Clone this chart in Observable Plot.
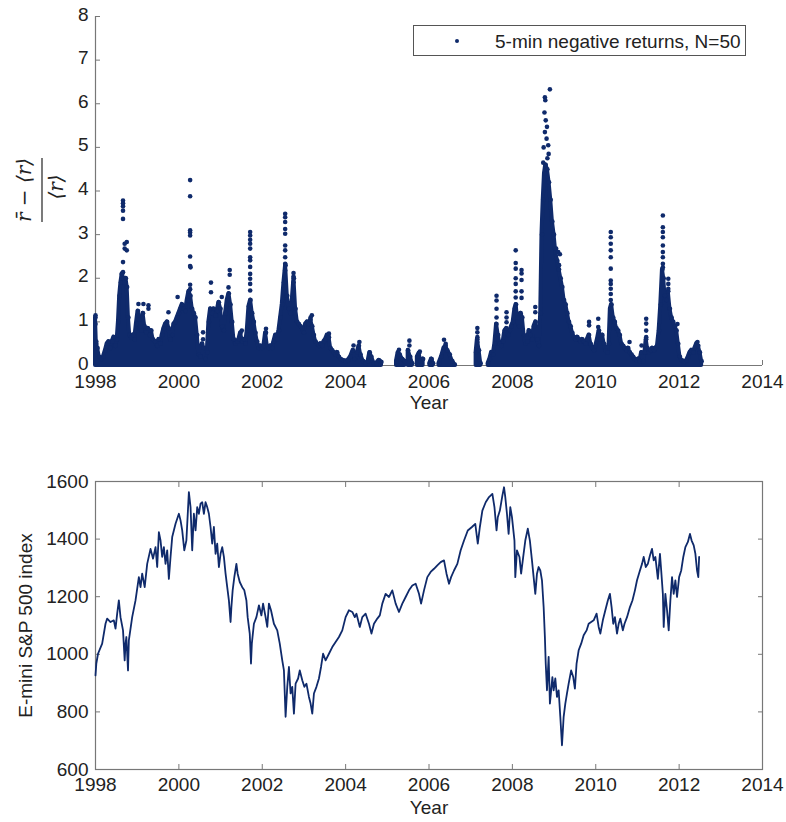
<!DOCTYPE html>
<html>
<head>
<meta charset="utf-8">
<script src="https://cdn.jsdelivr.net/npm/d3@7"></script>
<script src="https://cdn.jsdelivr.net/npm/@observablehq/plot@0.6"></script>
<style>
  html, body { margin: 0; padding: 0; background: #fff; }
  #chart { width: 786px; }
  #chart svg { display: block; }
</style>
</head>
<body>
<div id="chart"></div>
<script>
// Tick values
const yearTicks = [1998, 2000, 2002, 2004, 2006, 2008, 2010, 2012, 2014];
const ratioTicks = [0, 1, 2, 3, 4, 5, 6, 7, 8];
const priceTicks = [600, 800, 1000, 1200, 1400, 1600];

// Upper edge of the dense cloud of 5-min negative-return ratios [year, value]; NaN marks a gap with no data
const cloudTop = [
  [1998.00,1.10],[1998.02,0.50],[1998.05,0.40],[1998.09,0.20],[1998.14,0.15],[1998.19,0.20],[1998.24,0.35],[1998.28,0.50],
  [1998.32,0.55],[1998.36,0.40],[1998.40,0.55],[1998.44,0.65],[1998.48,0.45],[1998.52,0.60],[1998.55,1.00],[1998.58,1.60],
  [1998.61,1.90],[1998.64,2.10],[1998.67,2.00],[1998.70,1.90],[1998.73,2.00],[1998.76,1.80],[1998.79,1.10],[1998.82,0.70],
  [1998.86,0.65],[1998.90,0.70],[1998.94,0.60],[1998.98,0.95],[1999.02,1.25],[1999.06,1.05],[1999.10,0.80],[1999.14,1.20],
  [1999.18,0.90],[1999.22,0.75],[1999.26,0.85],[1999.30,0.70],[1999.34,0.80],[1999.38,0.60],[1999.43,0.55],[1999.48,0.45],
  [1999.52,0.60],[1999.56,0.50],[1999.60,0.70],[1999.64,0.85],[1999.68,0.95],[1999.72,1.00],[1999.76,0.85],[1999.80,0.60],
  [1999.84,0.70],[1999.88,0.95],[1999.92,1.00],[1999.96,1.10],[2000.00,1.20],[2000.04,1.30],[2000.08,1.40],[2000.12,1.30],
  [2000.16,1.25],[2000.20,1.50],[2000.24,1.70],[2000.28,1.60],[2000.32,1.30],[2000.36,1.20],[2000.40,1.10],[2000.44,0.70],
  [2000.48,0.25],[2000.52,0.20],[2000.56,0.50],[2000.60,0.40],[2000.64,0.15],[2000.68,0.30],[2000.72,1.00],[2000.76,1.30],
  [2000.80,1.20],[2000.84,1.30],[2000.88,1.15],[2000.92,1.25],[2000.96,1.45],[2001.00,1.30],[2001.04,0.90],[2001.08,0.80],
  [2001.12,1.20],[2001.16,1.50],[2001.20,1.65],[2001.24,1.40],[2001.28,1.00],[2001.32,0.60],[2001.36,0.50],[2001.40,0.55],
  [2001.44,0.60],[2001.48,0.75],[2001.52,0.55],[2001.56,0.60],[2001.60,0.50],[2001.64,0.80],[2001.68,1.35],[2001.72,1.50],
  [2001.76,1.20],[2001.80,1.00],[2001.84,0.75],[2001.88,0.55],[2001.92,0.40],[2001.96,0.45],[2002.00,0.40],[2002.04,0.45],
  [2002.08,0.75],[2002.12,0.45],[2002.16,0.40],[2002.20,0.45],[2002.24,0.40],[2002.28,0.55],[2002.32,0.70],[2002.36,0.60],
  [2002.40,0.80],[2002.44,1.10],[2002.48,1.40],[2002.52,1.90],[2002.56,2.30],[2002.60,1.60],[2002.64,1.30],[2002.68,1.20],
  [2002.72,1.50],[2002.76,2.00],[2002.80,1.30],[2002.84,1.00],[2002.88,0.95],[2002.92,0.90],[2002.96,0.85],[2003.00,0.75],
  [2003.04,0.95],[2003.08,1.00],[2003.12,0.95],[2003.16,1.05],[2003.20,0.90],[2003.24,0.70],[2003.28,0.55],[2003.32,0.50],
  [2003.36,0.45],[2003.40,0.50],[2003.44,0.45],[2003.48,0.55],[2003.52,0.60],[2003.56,0.70],[2003.60,0.65],[2003.64,0.40],
  [2003.68,0.35],[2003.72,0.30],[2003.76,0.25],[2003.80,0.30],[2003.84,0.20],[2003.88,0.15],[2003.94,0.12],[2004.00,0.10],
  [2004.06,0.12],[2004.12,0.20],[2004.18,0.35],[2004.22,0.15],[2004.28,0.30],[2004.32,0.45],[2004.36,0.25],[2004.42,0.10],
  [2004.48,0.05],[2004.54,0.10],[2004.58,0.30],[2004.62,0.20],[2004.68,0.05],[2004.74,0.05],[2004.80,0.12],[2004.86,0.08],
  [2004.95,NaN],
  [2005.22,0.10],[2005.26,0.30],[2005.30,0.25],[2005.36,0.15],[2005.42,0.10],[2005.46,NaN],
  [2005.50,0.35],[2005.55,0.20],[2005.60,0.05],[2005.66,NaN],
  [2005.72,0.20],[2005.76,0.28],[2005.80,0.10],[2005.86,0.15],[2005.94,NaN],
  [2006.02,0.05],[2006.06,0.15],[2006.10,0.05],[2006.18,NaN],
  [2006.24,0.05],[2006.30,0.20],[2006.36,0.40],[2006.40,0.45],[2006.44,0.35],[2006.50,0.25],[2006.56,0.10],[2006.62,0.02],[2006.90,NaN],
  [2007.13,0.30],[2007.16,0.60],[2007.20,0.35],[2007.24,0.05],[2007.33,NaN],
  [2007.42,0.05],[2007.46,0.15],[2007.50,0.30],[2007.54,0.25],[2007.58,0.50],[2007.62,0.95],[2007.66,0.70],[2007.70,0.50],
  [2007.74,0.45],[2007.78,0.55],[2007.82,0.80],[2007.86,0.85],[2007.90,0.70],[2007.94,0.80],[2007.98,0.90],[2008.02,1.00],
  [2008.06,1.30],[2008.09,1.40],[2008.12,1.10],[2008.16,0.90],[2008.20,1.20],[2008.24,1.10],[2008.28,0.70],[2008.32,0.50],
  [2008.36,0.55],[2008.40,0.80],[2008.44,0.70],[2008.48,0.60],[2008.52,0.90],[2008.56,1.00],[2008.60,0.60],[2008.64,0.45],
  [2008.68,1.20],[2008.71,3.00],[2008.74,3.80],[2008.77,4.40],[2008.80,4.60],[2008.84,4.50],[2008.88,4.20],[2008.92,3.80],
  [2008.96,3.30],[2009.00,3.00],[2009.04,2.60],[2009.08,2.40],[2009.12,2.20],[2009.16,2.00],[2009.20,1.80],[2009.24,1.50],
  [2009.28,1.40],[2009.32,1.20],[2009.36,1.00],[2009.40,0.90],[2009.44,0.75],[2009.48,0.65],[2009.52,0.60],[2009.56,0.65],
  [2009.60,0.60],[2009.64,0.55],[2009.68,0.60],[2009.72,0.55],[2009.76,0.50],[2009.80,0.60],[2009.84,0.70],[2009.88,0.50],
  [2009.92,0.40],[2009.96,0.35],[2010.00,0.45],[2010.04,0.60],[2010.08,0.80],[2010.12,0.60],[2010.16,0.70],[2010.20,0.50],
  [2010.24,0.35],[2010.28,0.30],[2010.32,0.50],[2010.35,1.30],[2010.38,1.40],[2010.42,1.10],[2010.46,1.00],[2010.50,0.85],
  [2010.54,0.80],[2010.58,0.70],[2010.62,0.50],[2010.66,0.45],[2010.70,0.40],[2010.74,0.35],[2010.78,0.40],[2010.82,0.30],
  [2010.86,0.25],[2010.90,0.20],[2010.94,0.15],[2010.98,0.12],[2011.02,0.15],[2011.06,0.10],[2011.10,0.30],[2011.14,0.10],
  [2011.18,0.30],[2011.21,0.60],[2011.24,0.40],[2011.28,0.30],[2011.32,0.35],[2011.36,0.40],[2011.40,0.35],[2011.44,0.40],
  [2011.48,0.45],[2011.52,0.80],[2011.56,1.40],[2011.60,2.20],[2011.63,2.00],[2011.66,1.60],[2011.70,1.50],[2011.74,1.70],
  [2011.78,1.30],[2011.82,1.10],[2011.86,1.00],[2011.90,0.90],[2011.94,0.80],[2011.98,0.50],[2012.02,0.20],[2012.06,0.12],
  [2012.10,0.10],[2012.14,0.08],[2012.18,0.12],[2012.22,0.20],[2012.26,0.30],[2012.30,0.35],[2012.34,0.30],[2012.38,0.40],
  [2012.42,0.50],[2012.46,0.45],[2012.50,0.30],[2012.54,0.10]
];

// Isolated points standing above the dense cloud [year, value]
const sparsePoints = [
  [1998.00,1.15],[1998.00,0.95],[1998.02,0.55],
  [1998.66,3.78],[1998.66,3.72],[1998.66,3.65],[1998.66,3.55],[1998.66,3.36],[1998.70,2.79],[1998.70,2.68],
  [1998.75,2.83],[1998.75,2.64],[1998.66,2.37],[1998.66,2.14],[1998.63,2.10],
  [1999.03,1.41],[1999.15,1.41],[1999.27,1.38],[1999.27,1.30],[1999.75,1.22],
  [1999.97,1.57],[2000.27,4.25],[2000.27,3.88],[2000.27,3.10],[2000.27,3.05],[2000.27,2.98],[2000.27,2.50],
  [2000.27,2.28],[2000.28,2.25],[2000.27,1.85],[2000.27,1.75],[2000.22,1.49],
  [2000.58,0.76],[2000.58,0.60],
  [2000.77,1.90],[2000.77,1.68],[2001.03,1.57],[2001.22,2.19],[2001.22,2.08],[2001.19,1.79],[2001.51,0.80],
  [2001.71,3.06],[2001.71,2.98],[2001.71,2.88],[2001.71,2.79],[2001.71,2.68],[2001.71,2.48],[2001.71,2.41],
  [2001.71,2.26],[2001.71,2.10],[2001.71,1.99],[2001.71,1.87],[2001.71,1.72],
  [2002.09,0.84],[2002.09,0.75],
  [2002.55,3.48],[2002.55,3.40],[2002.55,3.29],[2002.55,3.13],[2002.55,3.02],[2002.55,2.75],[2002.55,2.64],
  [2002.55,2.48],[2002.55,2.33],[2002.55,2.18],
  [2002.75,2.12],[2002.75,2.04],[2002.75,1.91],
  [2003.19,1.15],[2003.16,1.10],[2003.60,0.73],[2004.19,0.46],[2004.33,0.54],
  [2005.28,0.36],[2005.53,0.57],[2005.53,0.46],[2005.78,0.32],[2006.06,0.15],[2006.36,0.59],[2006.40,0.50],
  [2007.16,0.86],[2007.16,0.76],[2007.16,0.65],[2007.16,0.54],
  [2007.62,1.60],[2007.62,1.49],[2007.62,1.30],[2007.62,1.10],
  [2007.86,1.22],[2007.86,1.10],[2007.86,0.99],
  [2008.08,2.64],[2008.08,2.35],[2008.08,2.22],[2008.08,2.00],[2008.08,1.87],[2008.08,1.70],[2008.08,1.56],
  [2008.22,2.19],[2008.22,2.11],[2008.22,1.96],[2008.22,1.70],[2008.22,1.55],
  [2008.55,1.34],[2008.55,1.22],
  [2008.90,6.33],[2008.78,6.15],[2008.79,6.08],[2008.77,5.80],[2008.80,5.62],[2008.83,5.47],[2008.78,5.35],
  [2008.82,5.20],[2008.86,5.05],[2008.75,5.00],[2008.87,4.85],[2008.84,4.75],[2008.74,4.65],
  [2009.05,2.68],[2009.10,2.60],[2009.14,2.55],[2009.12,2.30],[2009.05,2.45],
  [2009.84,1.00],[2009.84,0.92],[2010.06,1.07],[2010.06,0.88],
  [2010.36,3.06],[2010.36,2.94],[2010.36,2.79],[2010.36,2.64],[2010.36,2.48],[2010.36,2.22],[2010.36,1.95],
  [2010.36,1.87],[2010.36,1.76],[2010.36,1.64],[2010.36,1.50],
  [2010.81,0.54],[2011.10,0.46],[2011.21,1.07],[2011.21,0.96],[2011.21,0.80],[2011.21,0.65],
  [2011.61,3.44],[2011.61,3.17],[2011.61,3.06],[2011.61,2.94],[2011.61,2.75],[2011.61,2.60],[2011.61,2.48],
  [2011.61,2.33],[2011.61,2.25],
  [2011.74,1.99],[2011.74,1.87],[2011.74,1.76],
  [2011.96,0.95],[2012.44,0.54]
];

// E-mini S&P 500 index level [year, index]
const sp500 = [
  [1998.00,927],[1998.02,968],[1998.06,1002],[1998.16,1037],[1998.24,1106],[1998.28,1124],[1998.36,1112],[1998.44,1118],
  [1998.48,1089],[1998.52,1141],[1998.56,1187],[1998.60,1129],[1998.66,1083],[1998.70,979],[1998.72,1037],[1998.74,1060],
  [1998.78,944],[1998.80,1048],[1998.88,1129],[1998.96,1187],[1999.04,1268],[1999.08,1233],[1999.12,1280],[1999.18,1233],
  [1999.24,1314],[1999.32,1366],[1999.38,1332],[1999.44,1372],[1999.48,1303],[1999.52,1424],[1999.56,1395],[1999.60,1338],
  [1999.64,1372],[1999.68,1314],[1999.72,1361],[1999.76,1262],[1999.80,1338],[1999.84,1407],[1999.92,1453],[2000.00,1488],
  [2000.04,1465],[2000.08,1430],[2000.13,1361],[2000.18,1395],[2000.24,1563],[2000.28,1511],[2000.32,1361],[2000.36,1488],
  [2000.40,1430],[2000.44,1511],[2000.48,1488],[2000.52,1523],[2000.56,1528],[2000.60,1488],[2000.64,1528],[2000.68,1511],
  [2000.72,1488],[2000.76,1442],[2000.80,1384],[2000.84,1442],[2000.88,1349],[2000.92,1384],[2000.96,1303],[2001.00,1349],
  [2001.04,1372],[2001.08,1338],[2001.12,1280],[2001.16,1233],[2001.20,1187],[2001.24,1112],[2001.26,1164],[2001.29,1222],
  [2001.33,1268],[2001.38,1314],[2001.41,1280],[2001.46,1251],[2001.52,1233],[2001.57,1222],[2001.62,1187],[2001.65,1129],
  [2001.70,1072],[2001.73,968],[2001.75,1037],[2001.80,1106],[2001.86,1129],[2001.92,1170],[2001.98,1135],[2002.02,1176],
  [2002.08,1129],[2002.12,1095],[2002.16,1176],[2002.21,1153],[2002.28,1106],[2002.36,1083],[2002.42,1037],[2002.48,979],
  [2002.52,944],[2002.56,783],[2002.60,887],[2002.64,956],[2002.68,864],[2002.72,887],[2002.76,794],[2002.80,898],
  [2002.86,916],[2002.90,944],[2002.96,910],[2003.01,887],[2003.06,898],[2003.12,852],[2003.16,829],[2003.20,794],
  [2003.24,864],[2003.30,887],[2003.36,916],[2003.41,956],[2003.46,1002],[2003.52,979],[2003.60,1002],[2003.68,1025],
  [2003.76,1043],[2003.84,1060],[2003.92,1083],[2004.00,1129],[2004.08,1153],[2004.16,1147],[2004.22,1129],[2004.26,1141],
  [2004.34,1095],[2004.40,1129],[2004.48,1141],[2004.56,1106],[2004.62,1072],[2004.68,1106],[2004.76,1124],[2004.82,1135],
  [2004.88,1176],[2004.96,1210],[2005.04,1199],[2005.12,1222],[2005.20,1176],[2005.28,1147],[2005.36,1176],[2005.44,1199],
  [2005.52,1222],[2005.60,1239],[2005.68,1245],[2005.76,1210],[2005.81,1176],[2005.88,1222],[2005.96,1268],[2006.04,1286],
  [2006.12,1297],[2006.20,1309],[2006.28,1320],[2006.36,1326],[2006.42,1280],[2006.48,1245],[2006.53,1268],[2006.60,1291],
  [2006.68,1314],[2006.76,1361],[2006.84,1395],[2006.93,1430],[2007.03,1442],[2007.11,1453],[2007.17,1384],[2007.22,1442],
  [2007.28,1499],[2007.36,1528],[2007.44,1546],[2007.52,1557],[2007.57,1511],[2007.62,1430],[2007.65,1476],[2007.70,1499],
  [2007.76,1551],[2007.80,1580],[2007.83,1546],[2007.87,1488],[2007.91,1418],[2007.95,1511],[2007.99,1476],[2008.05,1395],
  [2008.07,1268],[2008.11,1361],[2008.17,1338],[2008.21,1280],[2008.26,1338],[2008.31,1395],[2008.37,1436],[2008.42,1395],
  [2008.47,1326],[2008.51,1268],[2008.55,1210],[2008.59,1280],[2008.63,1303],[2008.67,1291],[2008.71,1257],[2008.75,1164],
  [2008.78,1060],[2008.80,968],[2008.83,875],[2008.87,991],[2008.90,829],[2008.93,875],[2008.96,921],[2008.99,875],
  [2009.03,916],[2009.07,852],[2009.11,875],[2009.15,783],[2009.19,684],[2009.23,783],[2009.27,829],[2009.31,864],
  [2009.35,898],[2009.41,944],[2009.46,921],[2009.50,881],[2009.54,968],[2009.59,1014],[2009.65,1037],[2009.71,1066],
  [2009.78,1083],[2009.83,1106],[2009.89,1112],[2009.95,1118],[2010.02,1141],[2010.07,1095],[2010.11,1072],[2010.17,1118],
  [2010.23,1153],[2010.29,1187],[2010.34,1210],[2010.38,1164],[2010.42,1106],[2010.46,1129],[2010.51,1072],[2010.55,1106],
  [2010.59,1124],[2010.65,1083],[2010.69,1106],[2010.75,1129],[2010.82,1164],[2010.88,1187],[2010.94,1222],[2010.99,1257],
  [2011.06,1291],[2011.11,1314],[2011.15,1338],[2011.20,1303],[2011.25,1314],[2011.30,1343],[2011.35,1366],[2011.39,1326],
  [2011.43,1338],[2011.49,1262],[2011.54,1349],[2011.57,1291],[2011.61,1210],[2011.63,1095],[2011.67,1210],[2011.71,1153],
  [2011.75,1083],[2011.79,1187],[2011.83,1268],[2011.87,1210],[2011.91,1257],[2011.95,1199],[2012.00,1268],[2012.05,1291],
  [2012.10,1338],[2012.15,1372],[2012.21,1390],[2012.26,1418],[2012.30,1395],[2012.35,1378],[2012.39,1349],[2012.43,1291],
  [2012.46,1268],[2012.48,1338]
];

const navy = "#0f2a6b";
const axisGray = "#777";
const textColor = "#222";
const sans = "'Liberation Sans', Arial, Helvetica, sans-serif";
const baseStyle = {fontFamily: sans, fontSize: "19px", color: textColor, background: "#fff", overflow: "visible"};

// ---- Upper panel: normalized negative-return ratio ----
const ratioChart = Plot.plot({
  width: 786, height: 420,
  marginTop: 16, marginRight: 24, marginBottom: 55, marginLeft: 95,
  style: baseStyle,
  x: {domain: [1998, 2014]},
  y: {domain: [0, 8]},
  marks: [
    Plot.ruleX([1998], {stroke: axisGray, strokeWidth: 1.2}),
    Plot.ruleY([0], {stroke: axisGray, strokeWidth: 1.2}),
    Plot.axisX(yearTicks.slice(1), {anchor: "bottom", tickSize: -5, fill: "none", stroke: axisGray, label: null}),
    Plot.axisY(ratioTicks.slice(1), {anchor: "left", tickSize: -5, fill: "none", stroke: axisGray, label: null}),
    Plot.axisX(yearTicks, {anchor: "bottom", tickSize: 0, tickPadding: 9, tickFormat: "d", fill: textColor, label: null}),
    Plot.axisY(ratioTicks, {anchor: "left", tickSize: 0, tickPadding: 7, tickFormat: "d", fill: textColor, label: null, dy: -2}),
    Plot.area(cloudTop, {x1: d => d[0], y1: 0, y2: d => d[1], fill: navy, stroke: navy, strokeWidth: 4, strokeLinejoin: "round"}),
    Plot.dot(cloudTop.filter(d => isFinite(d[1])), {x: d => d[0], y: d => d[1], r: 2.3, fill: navy}),
    Plot.dot(sparsePoints, {x: d => d[0], y: d => d[1], r: 2.3, fill: navy}),
    Plot.text(["Year"], {text: d => d, frameAnchor: "bottom", dy: 43, fill: textColor, fontSize: 19})
  ]
});

// Y label: (r̄ − ⟨r⟩) / ⟨r⟩, written as a rotated fraction
const topSvg = d3.select(ratioChart);
const formula = topSvg.append("g")
  .attr("font-family", "'DejaVu Serif', 'Liberation Serif', serif")
  .attr("font-size", 20)
  .attr("fill", textColor)
  .attr("font-style", "italic")
  .attr("text-anchor", "middle");
formula.append("text").attr("transform", "translate(31,190) rotate(-90)").text("r\u0304 \u2212 \u27e8r\u27e9");
formula.append("line")
  .attr("x1", 42).attr("x2", 42).attr("y1", 158).attr("y2", 222)
  .attr("stroke", textColor).attr("stroke-width", 1.2);
formula.append("text").attr("transform", "translate(63,187) rotate(-90)").text("\u27e8r\u27e9");

// Legend box
const legend = topSvg.append("g").attr("text-anchor", "start");
legend.append("rect")
  .attr("x", 413.5).attr("y", 25.5).attr("width", 332).attr("height", 30)
  .attr("fill", "#fff").attr("stroke", "#555").attr("stroke-width", 1);
legend.append("circle").attr("cx", 457).attr("cy", 41).attr("r", 2).attr("fill", navy);
legend.append("text")
  .attr("x", 495).attr("y", 48)
  .attr("font-family", sans).attr("font-size", 19).attr("fill", textColor)
  .text("5-min negative returns, N=50");

// ---- Lower panel: E-mini S&P 500 index ----
const priceChart = Plot.plot({
  width: 786, height: 402,
  marginTop: 61, marginRight: 24, marginBottom: 53, marginLeft: 95,
  style: baseStyle,
  x: {domain: [1998, 2014]},
  y: {domain: [600, 1600]},
  marks: [
    Plot.frame({stroke: axisGray, strokeWidth: 1.2}),
    Plot.axisX(yearTicks.slice(1, -1), {anchor: "bottom", tickSize: -5, fill: "none", stroke: axisGray, label: null}),
    Plot.axisX(yearTicks.slice(1, -1), {anchor: "top", tickSize: -5, fill: "none", stroke: axisGray, label: null}),
    Plot.axisY(priceTicks.slice(1, -1), {anchor: "left", tickSize: -5, fill: "none", stroke: axisGray, label: null}),
    Plot.axisY(priceTicks.slice(1, -1), {anchor: "right", tickSize: -5, fill: "none", stroke: axisGray, label: null}),
    Plot.axisX(yearTicks, {anchor: "bottom", tickSize: 0, tickPadding: 8, tickFormat: "d", fill: textColor, label: null}),
    Plot.axisY(priceTicks, {anchor: "left", tickSize: 0, tickPadding: 7, tickFormat: "d", fill: textColor, label: null}),
    Plot.line(sp500, {x: d => d[0], y: d => d[1], stroke: navy, strokeWidth: 1.8, strokeLinejoin: "round"}),
    Plot.text(["Year"], {text: d => d, frameAnchor: "bottom", dy: 44, fill: textColor, fontSize: 19}),
    Plot.text(["E-mini S&P 500 index"], {text: d => d, frameAnchor: "left", textAnchor: "middle", rotate: -90, dx: -70, fill: textColor, fontSize: 19})
  ]
});

const chart = document.getElementById("chart");
chart.appendChild(ratioChart);
chart.appendChild(priceChart);
</script>
</body>
</html>
